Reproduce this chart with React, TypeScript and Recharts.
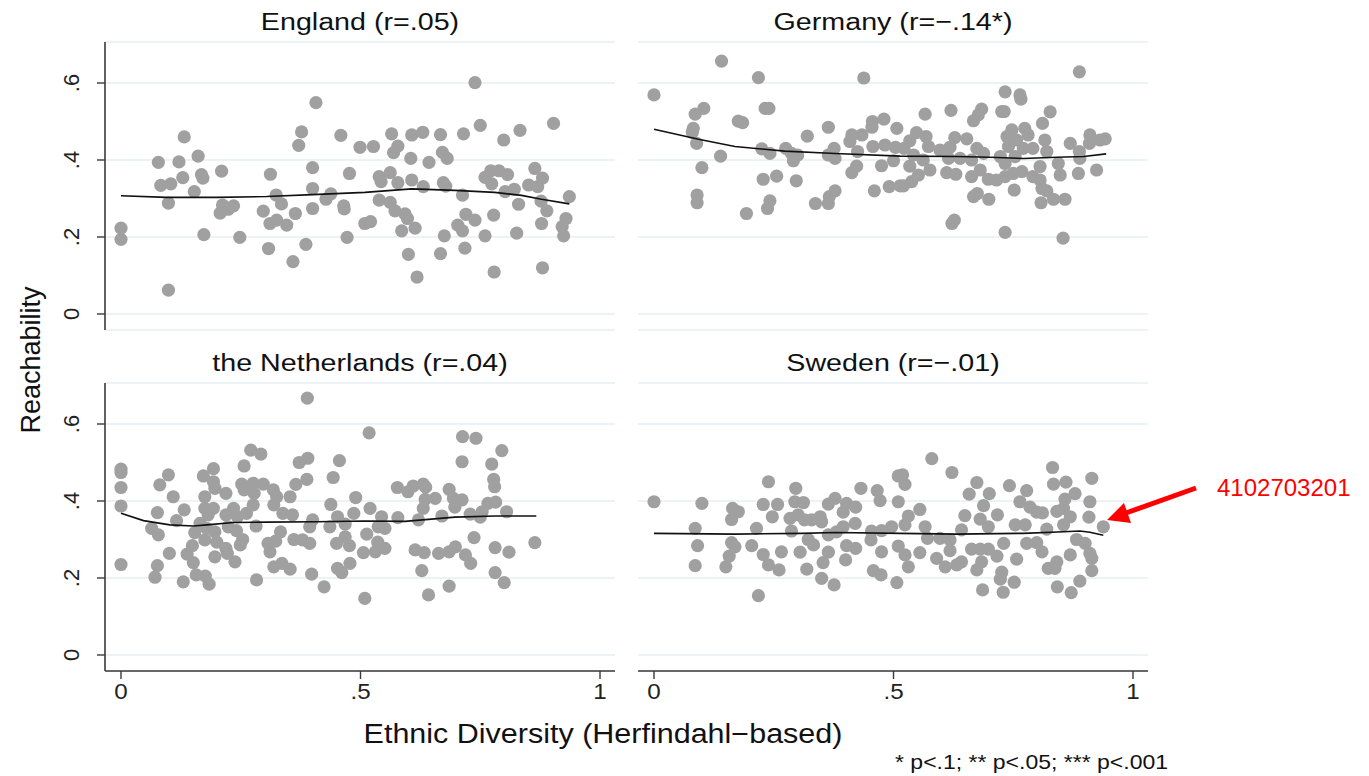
import React from "react";
import { ScatterChart, Scatter, XAxis, YAxis, CartesianGrid } from "recharts";

const FONT = '"Liberation Sans", Arial, Helvetica, sans-serif';

const yTicks = [0, 0.2, 0.4, 0.6];
const xTicks = [0, 0.5, 1];
const xDomain = [-0.0334, 1.0313];
const yDomain = [-0.0416, 0.7065];

const titles = ["England (r=.05)", "Germany (r=\u2212.14*)", "the Netherlands (r=.04)", "Sweden (r=\u2212.01)"];
const yAxisTitle = "Reachability";
const xAxisTitle = "Ethnic Diversity (Herfindahl\u2212based)";
const footnote = "* p<.1; ** p<.05; *** p<.001";
const annotation = "4102703201";

const englandPoints = [
  [0, 0.223], [0, 0.194], [0.078, 0.394], [0.083, 0.334], [0.104, 0.338], [0.099, 0.288], [0.121, 0.395],
  [0.132, 0.46], [0.129, 0.354], [0.161, 0.41], [0.168, 0.362], [0.171, 0.353], [0.153, 0.318], [0.099, 0.062],
  [0.173, 0.206], [0.21, 0.371], [0.212, 0.283], [0.207, 0.262], [0.224, 0.272], [0.235, 0.281], [0.248, 0.199],
  [0.312, 0.363], [0.297, 0.267], [0.324, 0.309], [0.335, 0.286], [0.311, 0.235], [0.325, 0.244], [0.346, 0.231],
  [0.364, 0.261], [0.308, 0.17], [0.359, 0.136], [0.386, 0.181], [0.371, 0.438], [0.377, 0.473], [0.407, 0.549],
  [0.4, 0.38], [0.4, 0.326], [0.4, 0.274], [0.428, 0.298], [0.438, 0.312], [0.459, 0.464], [0.477, 0.365],
  [0.465, 0.281], [0.466, 0.273], [0.472, 0.199], [0.499, 0.433], [0.509, 0.235],
  [0.527, 0.435], [0.521, 0.24], [0.539, 0.357], [0.543, 0.344], [0.562, 0.367], [0.539, 0.296], [0.562, 0.29],
  [0.565, 0.468], [0.578, 0.436], [0.569, 0.419], [0.578, 0.341], [0.572, 0.268], [0.593, 0.26], [0.598, 0.248],
  [0.586, 0.216], [0.614, 0.223], [0.6, 0.155], [0.618, 0.096], [0.607, 0.465], [0.63, 0.472], [0.605, 0.404],
  [0.607, 0.348], [0.631, 0.331], [0.643, 0.394], [0.667, 0.466], [0.671, 0.42], [0.681, 0.404], [0.673, 0.341],
  [0.678, 0.332], [0.675, 0.203], [0.667, 0.157], [0.703, 0.231], [0.713, 0.216], [0.713, 0.309], [0.715, 0.468],
  [0.72, 0.259], [0.718, 0.171], [0.739, 0.601], [0.75, 0.49], [0.739, 0.244], [0.76, 0.203], [0.76, 0.355],
  [0.772, 0.372], [0.789, 0.372], [0.807, 0.362], [0.774, 0.338], [0.802, 0.318], [0.778, 0.257], [0.779, 0.109],
  [0.799, 0.452], [0.821, 0.324], [0.83, 0.285], [0.826, 0.21], [0.833, 0.477], [0.851, 0.335], [0.864, 0.378],
  [0.88, 0.353], [0.87, 0.331], [0.877, 0.293], [0.889, 0.268], [0.878, 0.235], [0.88, 0.12], [0.903, 0.495],
  [0.936, 0.305], [0.929, 0.248], [0.921, 0.227], [0.924, 0.203],
];
const englandLowess = [
  [0, 0.307], [0.095, 0.303], [0.2, 0.303], [0.304, 0.305], [0.4, 0.31], [0.509, 0.316], [0.607, 0.325],
  [0.697, 0.321], [0.78, 0.316], [0.836, 0.308], [0.878, 0.298], [0.936, 0.286],
];

const germanyPoints = [
  [0, 0.569], [0.141, 0.657], [0.218, 0.614], [0.438, 0.613], [0.086, 0.519], [0.104, 0.534], [0.082, 0.482],
  [0.08, 0.472], [0.089, 0.443], [0.1, 0.38], [0.09, 0.309], [0.09, 0.289], [0.139, 0.41], [0.176, 0.501],
  [0.185, 0.497], [0.232, 0.534], [0.24, 0.534], [0.225, 0.429], [0.242, 0.417], [0.228, 0.35], [0.256, 0.358],
  [0.242, 0.294], [0.237, 0.274], [0.193, 0.261], [0.275, 0.43], [0.287, 0.417], [0.3, 0.413], [0.291, 0.398],
  [0.297, 0.346], [0.32, 0.462], [0.337, 0.287], [0.364, 0.485], [0.364, 0.287], [0.366, 0.305], [0.378, 0.32],
  [0.364, 0.413], [0.376, 0.43], [0.378, 0.404], [0.413, 0.465], [0.409, 0.448], [0.425, 0.422], [0.413, 0.367],
  [0.423, 0.384], [0.434, 0.465], [0.456, 0.5], [0.455, 0.485], [0.48, 0.506], [0.457, 0.435], [0.482, 0.439],
  [0.475, 0.385], [0.46, 0.32], [0.491, 0.331], [0.507, 0.482], [0.504, 0.433], [0.5, 0.398], [0.514, 0.333],
  [0.566, 0.519], [0.62, 0.529], [0.667, 0.502], [0.684, 0.532], [0.677, 0.517], [0.733, 0.577], [0.764, 0.569],
  [0.766, 0.558], [0.726, 0.526], [0.731, 0.526], [0.888, 0.629], [0.827, 0.525], [0.811, 0.495], [0.534, 0.45],
  [0.548, 0.471], [0.568, 0.461], [0.522, 0.43], [0.573, 0.435], [0.542, 0.413], [0.534, 0.384], [0.562, 0.4],
  [0.576, 0.374], [0.552, 0.361], [0.538, 0.344], [0.521, 0.333], [0.597, 0.426], [0.618, 0.433], [0.628, 0.458],
  [0.653, 0.455], [0.674, 0.43], [0.615, 0.404], [0.639, 0.404], [0.663, 0.4], [0.611, 0.367], [0.63, 0.363],
  [0.663, 0.357], [0.681, 0.374], [0.698, 0.35], [0.715, 0.348], [0.667, 0.305], [0.675, 0.313], [0.699, 0.298],
  [0.622, 0.235], [0.627, 0.244], [0.733, 0.212], [0.723, 0.409], [0.737, 0.461], [0.747, 0.478], [0.74, 0.435],
  [0.757, 0.452], [0.774, 0.482], [0.781, 0.465], [0.771, 0.43], [0.791, 0.43], [0.733, 0.391], [0.754, 0.409],
  [0.768, 0.37], [0.733, 0.357], [0.75, 0.365], [0.752, 0.322], [0.791, 0.357], [0.806, 0.383], [0.816, 0.452],
  [0.82, 0.422], [0.806, 0.348], [0.81, 0.326], [0.82, 0.32], [0.834, 0.298], [0.858, 0.298], [0.808, 0.289],
  [0.844, 0.391], [0.848, 0.361], [0.854, 0.197], [0.869, 0.443], [0.888, 0.422], [0.889, 0.404], [0.886, 0.365],
  [0.91, 0.465], [0.909, 0.443], [0.924, 0.374], [0.942, 0.455], [0.931, 0.452], [0.688, 0.417],
];
const germanyLowess = [
  [0, 0.48], [0.093, 0.454], [0.169, 0.435], [0.273, 0.423], [0.378, 0.417], [0.514, 0.41], [0.632, 0.409],
  [0.701, 0.407], [0.771, 0.404], [0.841, 0.407], [0.897, 0.409], [0.944, 0.416],
];

const netherlandsPoints = [
  [0, 0.483], [0, 0.474], [0, 0.435], [0, 0.387], [0, 0.235], [0.081, 0.442], [0.099, 0.468], [0.109, 0.411],
  [0.076, 0.37], [0.064, 0.329], [0.078, 0.312], [0.076, 0.232], [0.071, 0.202], [0.116, 0.349], [0.132, 0.377],
  [0.101, 0.264], [0.13, 0.19], [0.154, 0.318], [0.149, 0.284], [0.138, 0.262], [0.151, 0.24], [0.157, 0.208],
  [0.176, 0.205], [0.184, 0.184], [0.175, 0.411], [0.193, 0.484], [0.172, 0.465], [0.193, 0.45], [0.196, 0.433],
  [0.219, 0.42], [0.175, 0.381], [0.193, 0.381], [0.182, 0.364], [0.165, 0.342], [0.179, 0.329], [0.196, 0.32],
  [0.175, 0.299], [0.2, 0.293], [0.219, 0.277], [0.196, 0.255], [0.222, 0.264], [0.238, 0.242], [0.219, 0.364],
  [0.235, 0.381], [0.243, 0.359], [0.224, 0.333], [0.241, 0.323], [0.254, 0.3], [0.249, 0.286], [0.257, 0.491],
  [0.252, 0.444], [0.257, 0.429], [0.271, 0.532], [0.292, 0.522], [0.276, 0.446], [0.278, 0.42], [0.276, 0.39],
  [0.262, 0.368], [0.297, 0.444], [0.318, 0.429], [0.325, 0.411], [0.319, 0.39], [0.282, 0.335], [0.307, 0.29],
  [0.311, 0.268], [0.323, 0.296], [0.333, 0.32], [0.319, 0.229], [0.336, 0.238], [0.353, 0.223], [0.283, 0.195],
  [0.338, 0.368], [0.358, 0.364], [0.353, 0.411], [0.365, 0.443], [0.372, 0.5], [0.39, 0.511], [0.388, 0.456],
  [0.389, 0.667], [0.361, 0.3], [0.379, 0.299], [0.394, 0.29], [0.394, 0.333], [0.4, 0.351], [0.398, 0.21],
  [0.424, 0.177], [0.438, 0.391], [0.443, 0.461], [0.456, 0.505], [0.436, 0.333], [0.452, 0.359], [0.468, 0.34],
  [0.486, 0.368], [0.49, 0.409], [0.45, 0.29], [0.468, 0.307], [0.477, 0.284], [0.452, 0.225], [0.461, 0.214],
  [0.478, 0.238], [0.506, 0.266], [0.509, 0.147],
  [0.518, 0.577], [0.52, 0.381], [0.544, 0.359], [0.537, 0.333], [0.551, 0.329], [0.513, 0.314], [0.536, 0.293],
  [0.551, 0.277], [0.531, 0.268], [0.577, 0.435], [0.599, 0.424], [0.61, 0.439], [0.631, 0.444], [0.636, 0.436],
  [0.578, 0.357], [0.621, 0.351], [0.631, 0.381], [0.635, 0.404], [0.656, 0.407], [0.614, 0.273], [0.633, 0.266],
  [0.628, 0.219], [0.642, 0.156], [0.67, 0.361], [0.685, 0.43], [0.694, 0.407], [0.697, 0.384], [0.712, 0.403],
  [0.663, 0.264], [0.685, 0.268], [0.698, 0.281], [0.719, 0.26], [0.73, 0.238], [0.685, 0.179], [0.713, 0.567],
  [0.741, 0.563], [0.712, 0.502], [0.729, 0.366], [0.75, 0.358], [0.754, 0.372], [0.737, 0.305], [0.766, 0.394],
  [0.782, 0.397], [0.774, 0.496], [0.795, 0.531], [0.778, 0.456], [0.78, 0.437], [0.805, 0.372], [0.781, 0.279],
  [0.81, 0.267], [0.781, 0.214], [0.8, 0.188], [0.864, 0.292],
];
const netherlandsLowess = [
  [0, 0.368], [0.047, 0.349], [0.102, 0.338], [0.151, 0.335], [0.179, 0.338], [0.235, 0.344], [0.304, 0.345],
  [0.408, 0.346], [0.509, 0.348], [0.593, 0.347], [0.697, 0.358], [0.781, 0.361], [0.867, 0.361],
];

const swedenPoints = [
  [0, 0.398], [0.1, 0.394], [0.086, 0.329], [0.091, 0.284], [0.086, 0.232], [0.164, 0.381], [0.176, 0.372],
  [0.162, 0.352], [0.162, 0.292], [0.169, 0.281], [0.157, 0.257], [0.15, 0.229], [0.218, 0.154], [0.239, 0.45],
  [0.228, 0.391], [0.258, 0.391], [0.247, 0.359], [0.214, 0.329], [0.204, 0.284], [0.228, 0.261], [0.239, 0.234],
  [0.261, 0.221], [0.266, 0.268], [0.287, 0.322], [0.284, 0.355], [0.296, 0.433], [0.294, 0.398], [0.312, 0.396],
  [0.301, 0.364], [0.314, 0.351], [0.329, 0.351], [0.347, 0.359], [0.35, 0.346], [0.305, 0.267], [0.319, 0.223],
  [0.322, 0.3], [0.333, 0.286], [0.364, 0.392], [0.378, 0.407], [0.395, 0.371], [0.402, 0.394], [0.421, 0.384],
  [0.432, 0.433], [0.466, 0.427], [0.472, 0.401], [0.51, 0.465], [0.364, 0.312], [0.381, 0.32], [0.395, 0.333],
  [0.42, 0.342], [0.364, 0.267], [0.353, 0.24], [0.35, 0.199], [0.376, 0.182], [0.402, 0.284], [0.421, 0.277],
  [0.4, 0.247], [0.454, 0.322], [0.475, 0.323], [0.496, 0.333], [0.453, 0.299], [0.475, 0.268], [0.51, 0.283],
  [0.458, 0.219], [0.474, 0.208], [0.507, 0.188], [0.51, 0.398],
  [0.58, 0.51], [0.622, 0.474], [0.519, 0.468], [0.524, 0.443], [0.531, 0.361], [0.555, 0.378], [0.524, 0.338],
  [0.566, 0.333], [0.571, 0.303], [0.597, 0.303], [0.618, 0.299], [0.618, 0.271], [0.524, 0.26], [0.555, 0.266],
  [0.531, 0.229], [0.59, 0.251], [0.608, 0.229], [0.632, 0.234], [0.642, 0.242], [0.649, 0.362], [0.642, 0.325],
  [0.658, 0.418], [0.674, 0.448], [0.681, 0.353], [0.688, 0.388], [0.7, 0.419], [0.698, 0.333], [0.717, 0.364],
  [0.663, 0.275], [0.681, 0.275], [0.698, 0.275], [0.716, 0.257], [0.684, 0.242], [0.674, 0.221], [0.686, 0.169],
  [0.726, 0.215], [0.723, 0.197], [0.752, 0.189], [0.729, 0.163], [0.742, 0.44], [0.73, 0.29], [0.757, 0.249],
  [0.754, 0.338], [0.775, 0.338], [0.764, 0.398], [0.778, 0.427], [0.785, 0.384], [0.799, 0.371], [0.811, 0.369],
  [0.778, 0.29], [0.799, 0.292], [0.81, 0.268], [0.82, 0.327], [0.832, 0.487], [0.834, 0.444], [0.86, 0.449],
  [0.879, 0.419], [0.858, 0.405], [0.841, 0.373], [0.855, 0.381], [0.869, 0.359], [0.855, 0.338], [0.823, 0.225],
  [0.841, 0.242], [0.837, 0.225], [0.842, 0.177], [0.871, 0.162], [0.889, 0.192], [0.869, 0.26], [0.882, 0.3],
  [0.9, 0.29], [0.91, 0.264], [0.914, 0.251], [0.914, 0.219], [0.914, 0.459], [0.91, 0.398], [0.908, 0.358],
  [0.938, 0.333],
];
const swedenLowess = [
  [0, 0.316], [0.169, 0.314], [0.308, 0.316], [0.378, 0.318], [0.514, 0.316], [0.632, 0.314], [0.771, 0.316],
  [0.855, 0.32], [0.889, 0.322], [0.91, 0.319], [0.938, 0.311],
];

const toObjs = (arr: number[][]) => arr.map(([x, y]) => ({ x, y }));

const fmt = (v: number) => {
  if (v === 0) return "0";
  if (v === 1) return "1";
  return String(v).replace(/^0/, "");
};

const Dot = (props: any) => {
  const { cx, cy } = props;
  if (cx == null || cy == null) return <g />;
  return <circle cx={cx} cy={cy} r={6.6} fill="#a0a0a0" />;
};
const NoDot = () => <g />;

const YTick = (props: any) => {
  const { x, y, payload } = props;
  const tx = x - 24;
  return (
    <text
      x={tx}
      y={y}
      transform={`rotate(-90 ${tx} ${y})`}
      textAnchor="middle"
      dy="0.36em"
      fontSize={22}
      fontFamily={FONT}
      fill="#222"
    >
      {fmt(payload.value)}
    </text>
  );
};

const XTick = (props: any) => {
  const { x, y, payload } = props;
  return (
    <text
      transform={`translate(${x} ${y + 1}) scale(1.1 1)`}
      textAnchor="middle"
      dy="0.75em"
      fontSize={22}
      fontFamily={FONT}
      fill="#222"
    >
      {fmt(payload.value)}
    </text>
  );
};

type PanelProps = {
  points: number[][];
  lowess: number[][];
  showY: boolean;
  showX: boolean;
  left: number;
  top: number;
};

const Panel = ({ points, lowess, showY, showX, left, top }: PanelProps) => {
  const width = showY ? 620 : 520;
  const height = showX ? 380 : 340;
  const margin = {
    top: showX ? 43 : 42,
    right: showY ? 5 : 10,
    bottom: showX ? 0 : 10,
    left: 0,
  };
  return (
    <div style={{ position: "absolute", left, top }}>
      <ScatterChart width={width} height={height} margin={margin}>
        <CartesianGrid horizontal vertical={false} stroke="#e6eff1" strokeWidth={1.6} />
        <XAxis
          type="number"
          dataKey="x"
          domain={xDomain}
          ticks={xTicks}
          allowDataOverflow
          hide={!showX}
          height={49}
          axisLine={{ stroke: "#3a3a3a", strokeWidth: 1.6 }}
          tickLine={{ stroke: "#3a3a3a", strokeWidth: 1.4 }}
          tickSize={8}
          tick={<XTick />}
          interval={0}
        />
        <YAxis
          type="number"
          dataKey="y"
          domain={yDomain}
          ticks={yTicks}
          allowDataOverflow
          hide={!showY}
          width={105}
          axisLine={{ stroke: "#3a3a3a", strokeWidth: 1.6 }}
          tickLine={{ stroke: "#3a3a3a", strokeWidth: 1.4 }}
          tickSize={8}
          tick={<YTick />}
          interval={0}
        />
        <Scatter data={toObjs(points)} shape={<Dot />} isAnimationActive={false} />
        <Scatter
          data={toObjs(lowess)}
          shape={<NoDot />}
          line={{ stroke: "#111", strokeWidth: 1.6 }}
          lineType="joint"
          isAnimationActive={false}
        />
      </ScatterChart>
    </div>
  );
};

const Label = ({
  x,
  y,
  text,
  size,
  sx,
  anchor = "middle",
  color = "#111",
}: {
  x: number;
  y: number;
  text: string;
  size: number;
  sx: number;
  anchor?: "start" | "middle" | "end";
  color?: string;
}) => (
  <text
    transform={`translate(${x} ${y}) scale(${sx} 1)`}
    textAnchor={anchor}
    dy="0.36em"
    fontSize={size}
    fontFamily={FONT}
    fill={color}
  >
    {text}
  </text>
);

export default function App() {
  return (
    <div
      style={{
        position: "absolute",
        left: 0,
        top: 0,
        width: 1369,
        height: 776,
        background: "#fff",
        overflow: "hidden",
        fontFamily: FONT,
      }}
    >
      <Panel points={englandPoints} lowess={englandLowess} showY showX={false} left={0} top={0} />
      <Panel points={germanyPoints} lowess={germanyLowess} showY={false} showX={false} left={638} top={0} />
      <Panel points={netherlandsPoints} lowess={netherlandsLowess} showY showX left={0} top={340} />
      <Panel points={swedenPoints} lowess={swedenLowess} showY={false} showX left={638} top={340} />

      <svg width={1369} height={776} style={{ position: "absolute", left: 0, top: 0, pointerEvents: "none" }}>
        <Label x={360} y={21} text={titles[0]} size={24.5} sx={1.17} />
        <Label x={893} y={21} text={titles[1]} size={24.5} sx={1.17} />
        <Label x={360} y={362} text={titles[2]} size={24.5} sx={1.17} />
        <Label x={893} y={362} text={titles[3]} size={24.5} sx={1.17} />
        <text
          x={30}
          y={360}
          transform="rotate(-90 30 360)"
          textAnchor="middle"
          dy="0.36em"
          fontSize={27}
          fontFamily={FONT}
          fill="#111"
        >
          {yAxisTitle}
        </text>
        <Label x={603} y={733} text={xAxisTitle} size={27} sx={1.13} />
        <Label x={1168} y={762} text={footnote} size={20} sx={1.15} anchor="end" />
        <Label x={1217} y={487} text={annotation} size={24} sx={1} anchor="start" color="#ff0000" />
        <line x1={1196} y1={488} x2={1126} y2={513} stroke="#ff0000" strokeWidth={5} />
        <polygon points="1107,520 1124,503 1131,523" fill="#ff0000" />
      </svg>
    </div>
  );
}
